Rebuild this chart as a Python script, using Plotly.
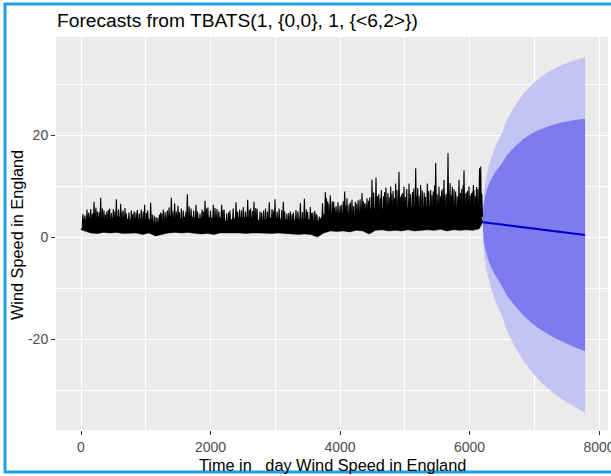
import plotly.graph_objects as go

# ---------------- data ----------------
# observed series: dense core per 100-day bin (start day of each bin)
bin_start = [i * 100 for i in range(62)]
core_hi = [3.2, 3.8, 4.0, 3.5, 3.6, 4.0, 3.8, 3.4, 3.6, 3.3,
           3.5, 2.6, 3.0, 4.2, 3.8, 3.6, 4.3, 3.7, 3.6, 3.9,
           3.6, 3.8, 3.0, 3.6, 3.7, 3.9, 3.8, 3.2, 3.4, 3.8,
           3.6, 3.4, 3.2, 3.5, 3.6, 3.3, 2.9, 4.4, 4.6, 4.3,
           4.7, 4.5, 4.3, 5.0, 5.4, 5.8, 5.5, 5.9, 5.7, 6.0,
           5.8, 6.1, 5.7, 5.9, 6.2, 5.6, 6.2, 5.6, 5.9, 6.0,
           5.6, 6.2]
core_lo = [1.2, 0.8, 0.7, 0.9, 0.8, 0.9, 0.7, 0.8, 0.8, 0.5,
           0.8, 0.2, 0.5, 0.8, 0.9, 0.8, 0.9, 0.7, 0.6, 0.7,
           0.5, 0.8, 0.7, 0.8, 0.8, 0.7, 0.8, 0.8, 0.8, 0.7,
           0.8, 0.7, 0.6, 0.5, 0.6, 0.5, 0.0, 0.8, 1.2, 1.1,
           1.2, 1.0, 1.3, 1.2, 0.6, 1.3, 1.4, 1.2, 1.3, 1.2,
           1.4, 1.2, 1.3, 1.4, 1.3, 1.5, 1.2, 1.4, 1.3, 1.4,
           1.3, 1.6]
series_start = (1, 1.4)
series_end = (6205, 2.9)

# individual spikes of the observed series (day, value)
spike_t = [30, 60, 93, 120, 150, 175, 201, 230, 252, 280, 304, 330, 355, 380,
           400, 420, 443, 470, 500, 525, 546, 580, 613, 630, 650, 680, 700,
           740, 777, 800, 820, 850, 870, 900, 930, 960, 983, 1010, 1030, 1076,
           1100, 1130, 1160, 1189, 1210, 1230, 1250, 1271, 1300, 1333, 1360,
           1395, 1420, 1446, 1470, 1498, 1520, 1550, 1580,
           1620, 1642, 1670, 1700, 1740, 1776, 1800, 1838, 1870, 1890, 1915,
           1940, 1960, 2000, 2044, 2070, 2100, 2130, 2172, 2190, 2210, 2250,
           2280, 2300, 2350, 2394, 2420, 2450, 2480, 2507, 2540, 2574, 2600,
           2620, 2650, 2672, 2700, 2720, 2765, 2790, 2820, 2850, 2880, 2908,
           2950, 2970, 2996, 3030, 3060, 3100, 3125,
           3145, 3180, 3210, 3233, 3260, 3280, 3320, 3350, 3388, 3420, 3450,
           3480, 3500, 3542, 3560, 3580, 3609, 3630, 3645, 3680,
           3730, 3774, 3790, 3810, 3830, 3850, 3880, 3903, 3920, 3940, 3969,
           4000, 4020, 4050, 4072, 4090, 4108, 4140, 4160, 4185, 4210, 4237,
           4260, 4280, 4310, 4340, 4360, 4380, 4400, 4417, 4440, 4460, 4494,
           4520, 4556, 4580, 4600, 4620, 4638, 4670, 4690, 4710,
           4740, 4760, 4783, 4800, 4820, 4840, 4860, 4880, 4911, 4930, 4950,
           4970, 4988, 5010, 5030, 5066, 5090, 5120, 5140, 5169, 5180, 5200,
           5220, 5246, 5270, 5300, 5320, 5349, 5370, 5400, 5420, 5440, 5460,
           5478, 5500, 5529, 5550, 5570, 5590, 5606, 5620, 5640, 5668, 5680,
           5700, 5720, 5735, 5760, 5786, 5810, 5838, 5860, 5880, 5900, 5915,
           5930, 5950, 5970, 5992, 6010, 6030, 6050, 6060, 6069, 6090, 6110,
           6130, 6155, 6173, 6190]
spike_v = [4.5, 4.2, 5.4, 4.8, 5.5, 4.6, 6.9, 5.8, 5.0, 4.9, 7.7, 5.6, 5.2, 4.4,
           5.0, 5.3, 5.6, 4.7, 5.5, 5.0, 7.4, 5.4, 6.5, 4.9, 5.2, 5.7, 4.6,
           4.8, 5.2, 4.5, 5.0, 4.8, 5.3, 4.6, 5.4, 5.0, 6.3, 4.7, 5.2, 6.7,
           4.4, 4.2, 3.9, 3.7, 4.4, 4.8, 4.6, 5.4, 4.9, 5.2, 5.8,
           7.7, 5.1, 6.6, 5.0, 6.1, 4.9, 5.6, 5.2,
           5.0, 8.4, 6.0, 5.6, 5.2, 6.3, 5.0, 4.6, 5.4, 5.0, 7.1,
           5.6, 5.8, 5.2, 6.3, 5.7, 5.5, 5.0, 6.3, 5.3, 5.4, 4.6,
           4.8, 5.2, 5.6, 6.8, 5.0, 5.4, 5.2, 5.9, 5.0, 7.3, 5.3,
           5.6, 5.1, 6.9, 5.7, 5.5, 5.0, 4.8, 5.2, 5.6, 5.0, 6.8,
           5.5, 5.2, 7.4, 5.0, 5.6, 5.3, 6.9,
           5.0, 4.6, 4.7, 5.0, 4.5, 4.8, 5.3, 5.0, 6.6, 4.9, 7.5,
           5.4, 4.9, 5.9, 4.7, 4.8, 5.1, 4.6, 4.3, 4.0,
           6.6, 8.8, 7.6, 7.0, 6.5, 8.2, 7.0, 6.9, 5.8, 6.0, 6.8,
           6.1, 6.3, 7.0, 8.9, 6.2, 7.6, 6.4, 6.8, 7.3, 6.0, 6.9,
           6.5, 7.2, 7.4, 8.6, 7.0, 6.6, 6.5, 7.6, 7.1, 7.8, 11.2,
           8.7, 11.6, 8.0, 8.4, 7.6, 9.2, 8.0, 8.8, 9.7,
           8.6, 7.8, 9.9, 8.4, 9.0, 7.6, 10.5, 9.2, 12.8, 7.9, 8.3,
           8.6, 9.9, 7.8, 9.4, 10.5, 8.4, 8.8, 9.5, 13.5, 8.0, 9.6,
           8.1, 10.2, 9.1, 8.7, 7.9, 10.5, 9.0, 9.2, 8.2, 8.9, 10.1,
           14.5, 8.4, 9.9, 8.0, 9.1, 9.4, 11.2, 8.1, 8.5, 16.4, 9.0,
           10.6, 8.2, 9.9, 9.4, 8.9, 8.0, 11.2, 8.6, 9.4, 10.2, 13.1,
           8.5, 8.7, 9.0, 9.9, 8.2, 8.6, 8.9, 10.2, 9.2, 8.0, 9.8,
           9.4, 13.5, 13.8, 8.5]

# forecast (point forecast and prediction intervals)
fc_time = [6206, 6215, 6240, 6270, 6317, 6400, 6500, 6574, 6700, 6832,
           6960, 7089, 7220, 7347, 7480, 7604, 7785]
fc_mean = [2.9, 2.89, 2.85, 2.8, 2.72, 2.59, 2.43, 2.32, 2.12, 1.91,
           1.71, 1.50, 1.29, 1.09, 0.88, 0.69, 0.4]
hi80 = [3.4, 5.9, 7.9, 9.3, 10.9, 12.8, 14.4, 16.0, 17.7, 19.2,
        20.3, 21.1, 21.7, 22.2, 22.6, 22.9, 23.2]
lo80 = [2.4, -0.1, -2.2, -3.7, -5.5, -7.6, -9.6, -11.4, -13.5, -15.4,
        -16.9, -18.1, -19.1, -20.0, -20.8, -21.5, -22.4]
hi95 = [3.7, 7.4, 10.4, 12.6, 14.8, 17.8, 20.3, 22.9, 25.7, 28.1,
        29.8, 31.3, 32.4, 33.3, 34.0, 34.6, 35.3]
lo95 = [2.1, -1.6, -4.7, -7.0, -9.4, -12.6, -15.5, -18.3, -21.5, -24.3,
        -26.4, -28.3, -29.8, -31.1, -32.2, -33.2, -34.5]

x_ticks = [0, 2000, 4000, 6000, 8000]
x_tick_labels = ["0", "2000", "4000", "6000", "8000"]
y_ticks = [-20, 0, 20]
y_tick_labels = ["-20", "0", "20"]
title_text = "Forecasts from TBATS(1, {0,0}, 1, {<6,2>})"
x_title = "Time in\u00a0\u00a0\u00a0day Wind Speed in England"
y_title = "Wind Speed in England"

# ---------------- layout geometry ----------------
W, H = 611, 476
ML, MR, MT, MB = 56, 3, 37, 46
PW, PH = W - ML - MR, H - MT - MB


def pxx(px):
    return (px - ML) / PW


def pxy(py):
    return (H - MB - py) / PH


FONT = "Liberation Sans, Arial, Helvetica, sans-serif"

fig = go.Figure()

# 95% interval
fig.add_trace(go.Scatter(x=fc_time + fc_time[::-1], y=hi95 + lo95[::-1],
                         fill="toself", fillcolor="#c4c4f4", mode="none",
                         hoverinfo="skip", showlegend=False))
# 80% interval
fig.add_trace(go.Scatter(x=fc_time + fc_time[::-1], y=hi80 + lo80[::-1],
                         fill="toself", fillcolor="#7c7cee", mode="none",
                         hoverinfo="skip", showlegend=False))

# observed series: dense core
mids = [b + 50 for b in bin_start]
core_x = [series_start[0]] + mids + [series_end[0]] + mids[::-1] + [series_start[0]]
core_y = [series_start[1]] + core_hi + [series_end[1]] + core_lo[::-1] + [series_start[1]]
fig.add_trace(go.Scatter(x=core_x, y=core_y, fill="toself", fillcolor="black",
                         mode="lines", line=dict(color="black", width=0.5),
                         hoverinfo="skip", showlegend=False))

# observed series: spikes (narrow triangles rising out of the core)
sx, sy = [], []
for t, v in zip(spike_t, spike_v):
    i = min(int(t // 100), len(core_lo) - 1)
    base = (core_hi[i] + core_lo[i]) / 2
    sx += [t - 12, t, t + 12, None]
    sy += [base, v, base, None]
fig.add_trace(go.Scatter(x=sx, y=sy, mode="lines",
                         line=dict(color="black", width=1.1),
                         hoverinfo="skip", showlegend=False))

# point forecast
fig.add_trace(go.Scatter(x=fc_time, y=fc_mean, mode="lines",
                         line=dict(color="#0000cc", width=2),
                         hoverinfo="skip", showlegend=False))

axis_common = dict(ticks="outside", ticklen=4, tickwidth=1, tickcolor="#333333",
                   tickfont=dict(size=14, color="#4d4d4d", family=FONT),
                   showgrid=True, gridcolor="white", gridwidth=1.2,
                   zeroline=False, showline=False, automargin=False)

fig.update_layout(
    width=W, height=H,
    margin=dict(l=ML, r=MR, t=MT, b=MB, pad=0),
    paper_bgcolor="white", plot_bgcolor="#ebebeb",
    font=dict(family=FONT, color="black"),
    title=dict(text=title_text, x=pxx(57), xref="paper", xanchor="left",
               y=1 - 20 / H, yref="container", yanchor="middle",
               font=dict(size=19.2, color="black", family=FONT),
               automargin=False),
    xaxis=dict(range=[(ML - 81) / 0.06475, (W - MR - 81) / 0.06475],
               tickvals=x_ticks, ticktext=x_tick_labels,
               ticklabeloverflow="allow",
               minor=dict(dtick=1000, tick0=0, showgrid=True,
                          gridcolor="white", gridwidth=0.6),
               **axis_common),
    yaxis=dict(range=[(237 - (H - MB)) / 5.1, (237 - MT) / 5.1],
               tickvals=y_ticks, ticktext=y_tick_labels,
               minor=dict(dtick=10, tick0=0, showgrid=True,
                          gridcolor="white", gridwidth=0.6),
               **axis_common),
    annotations=[
        dict(text=x_title, x=pxx(332), y=pxy(465), xref="paper", yref="paper",
             xanchor="center", yanchor="middle", showarrow=False,
             font=dict(size=16.3, color="black", family=FONT)),
        dict(text=y_title, x=pxx(17), y=pxy(235), xref="paper", yref="paper",
             xanchor="center", yanchor="middle", showarrow=False, textangle=-90,
             font=dict(size=16.3, color="black", family=FONT)),
    ],
    shapes=[dict(type="rect", xref="paper", yref="paper",
                 x0=pxx(5), x1=pxx(614), y0=pxy(472), y1=pxy(4),
                 line=dict(color="#1ba1e2", width=3), layer="above")],
)

fig.write_html("out.html")
